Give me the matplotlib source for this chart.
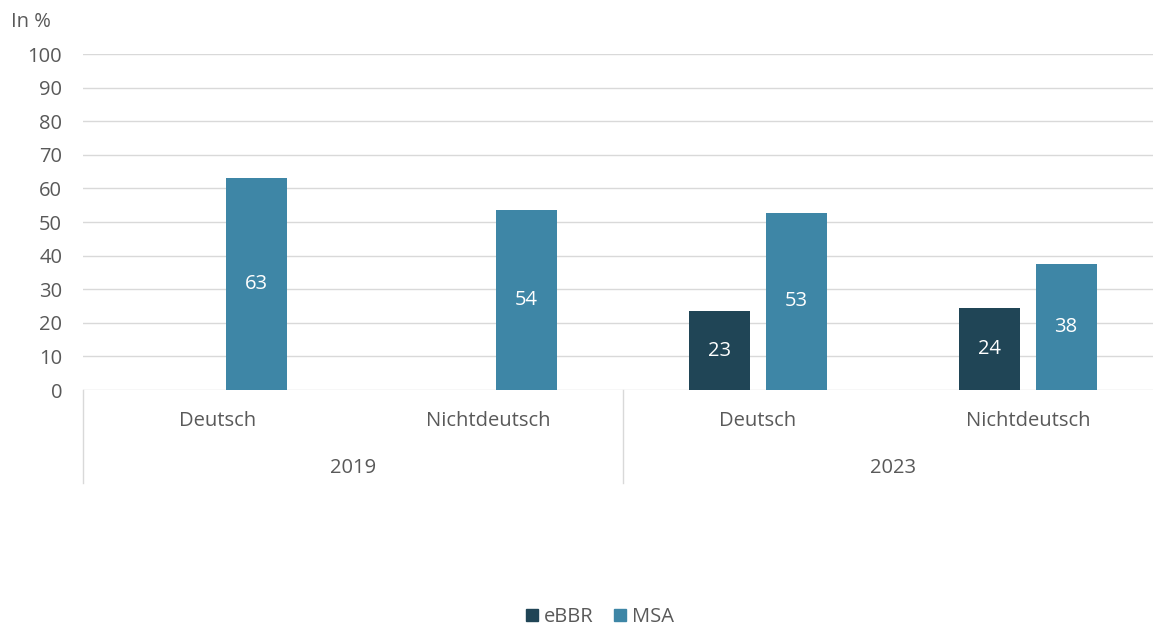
import matplotlib
matplotlib.use("Agg")
import matplotlib.pyplot as plt
import numpy as np
from matplotlib.patches import Patch
from matplotlib.transforms import blended_transform_factory

plt.rcParams['font.family'] = ['Open Sans', 'DejaVu Sans']

categories = ["Deutsch", "Nichtdeutsch", "Deutsch", "Nichtdeutsch"]
years = ["2019", "2023"]
series_names = ["eBBR", "MSA"]
ebbr = [np.nan, np.nan, 23.4, 24.4]
msa = [63.2, 53.6, 52.7, 37.6]
yticks = list(range(0, 101, 10))

c_ebbr = "#204556"
c_msa = "#3E86A6"
txt = "#595959"
grid = "#D9D9D9"
fs = 14.5

W, H = 1153, 626
fig = plt.figure(figsize=(W / 100, H / 100), dpi=100)
left_px, right_px, top_px, bot_px = 83, 1153, 54, 390
ax = fig.add_axes([left_px / W, 1 - bot_px / H, (right_px - left_px) / W, (bot_px - top_px) / H])

x = np.arange(len(categories))
bw = 0.226
off = 0.141
b1 = ax.bar(x - off, ebbr, bw, color=c_ebbr, zorder=3)
b2 = ax.bar(x + off, msa, bw, color=c_msa, zorder=3)

for bars, vals in ((b1, ebbr), (b2, msa)):
    for rect, v in zip(bars, vals):
        if np.isnan(v):
            continue
        ax.text(rect.get_x() + rect.get_width() / 2, v / 2, f"{v:.0f}",
                ha="center", va="center", color="white", fontsize=fs, zorder=4)

ax.set_ylim(0, 100)
ax.set_xlim(-0.5, 3.5 - 10 / 270)
ax.set_yticks(yticks)
ax.set_yticklabels([str(t) for t in yticks], color=txt, fontsize=fs)
ax.tick_params(axis="y", length=0, pad=15)
ax.tick_params(axis="x", length=0)
ax.set_xticks([])
ax.grid(axis="y", color=grid, linewidth=1, zorder=0)
for s in ax.spines.values():
    s.set_visible(False)

tr = blended_transform_factory(ax.transData, ax.transAxes)
for xi, c in zip(x, categories):
    ax.text(xi, -31 / 336, c, ha="center", va="center", color=txt, fontsize=fs, transform=tr)
for i, yr in enumerate(years):
    ax.text(2 * i + 0.5, -78 / 336, yr, ha="center", va="center", color=txt, fontsize=fs, transform=tr)
for xv in (-0.5, 1.5, 3.5):
    ax.plot([xv, xv], [0, -93 / 336], color=grid, linewidth=1, transform=tr, clip_on=False)

fig.text(11 / W, 1 - 22 / H, "In %", ha="left", va="center", color=txt, fontsize=fs)

handles = [Patch(color=c_ebbr, label=series_names[0]), Patch(color=c_msa, label=series_names[1])]
fig.legend(handles=handles, loc="center", bbox_to_anchor=(600 / W, 1 - 617 / H), ncol=2,
           frameon=False, fontsize=fs, handlelength=0.6, handleheight=0.6,
           handletextpad=0.3, columnspacing=1.0, labelcolor=txt)

fig.savefig("out.png", dpi=100)
